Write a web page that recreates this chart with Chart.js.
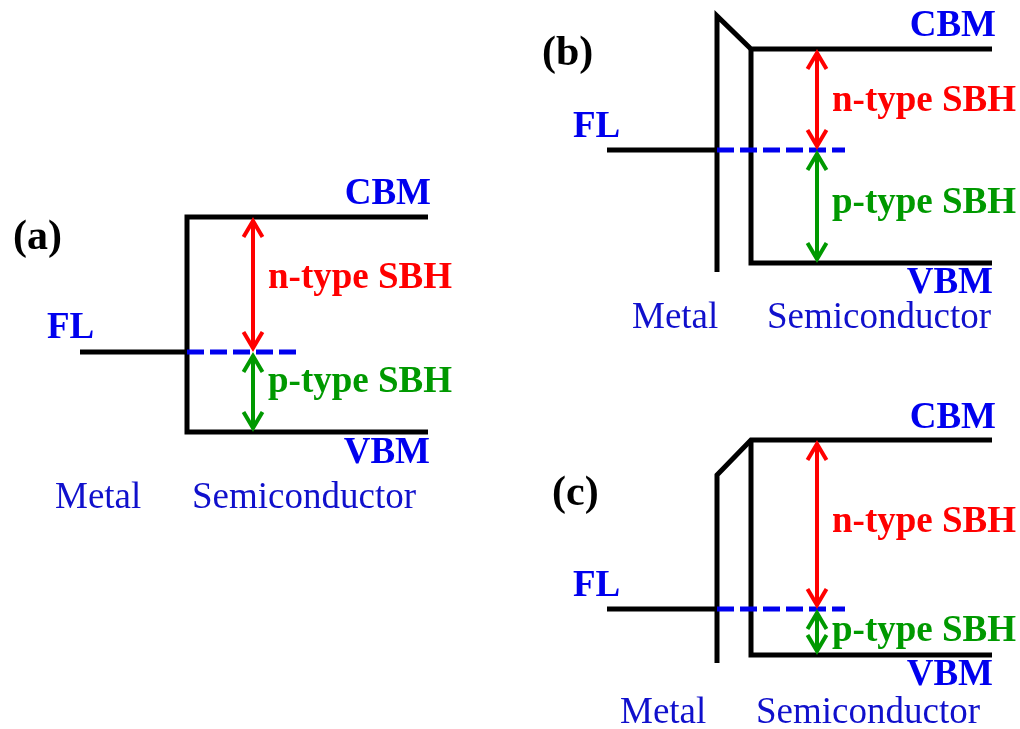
<!DOCTYPE html>
<html>
<head>
<meta charset="utf-8">
<title>Schottky barrier heights at metal–semiconductor contacts</title>
<script src="https://cdn.jsdelivr.net/npm/chart.js@4"></script>
<style>
  html, body { margin: 0; padding: 0; background: #ffffff; }
  #wrap { width: 1020px; height: 729px; }
</style>
</head>
<body>
<div id="wrap"><canvas id="bands" width="1020" height="729"></canvas></div>
<script>
// Band-alignment schematics, energies in eV relative to the Fermi level (FL),
// positions in schematic length units, measured from the semiconductor edge.
const panelTags   = ['(a)', '(b)', '(c)'];
const fermiLevel  = [0, 0, 0];
const cbmLevel    = [1.35, 1.01, 1.69];    // conduction band minimum
const vbmLevel    = [-0.80, -1.13, -0.46]; // valence band maximum
const barrierTop  = [null, 1.34, 1.34];    // top of the tunnel barrier at the metal surface
const metalBottom = [null, -1.22, -0.54];  // lower end of the metal surface line
const metalStart  = [-1.07, -1.44, -1.44];
const metalEdge   = [0, -0.34, -0.34];
const semiEnd     = [2.41, 2.41, 2.41];
const probeX      = [0.66, 0.66, 0.66];    // where the SBH arrows are drawn
const dashEnd     = [1.09, 0.94, 0.94];

// Per-panel axis windows (each panel gets its own x/y scale pair)
const xWindows = [[-1.87, 8.33], [-7.51, 2.69], [-7.51, 2.69]];
const yWindows = [[-3.77, 3.52], [-5.79, 1.50], [-1.20, 6.09]];
const axisIds  = ['a', 'b', 'c'];

const BLACK = '#000000';
const BLUE = '#0000ee';
const BLUE_TEXT = '#1010cc';
const RED = '#ff0000';
const GREEN = '#009900';

const BOLD = 'bold 37px "Liberation Serif", "Times New Roman", serif';
const TAG = 'bold 42px "Liberation Serif", "Times New Roman", serif';
const PLAIN = '37px "Liberation Serif", "Times New Roman", serif';

// Label placement in each panel's own coordinates
const labelLayout = [
  [
    { t: panelTags[0], x: -1.74, y: 1.03, align: 'left', font: TAG, color: BLACK },
    { t: 'FL', x: -1.40, y: 0.14, align: 'left', font: BOLD, color: BLUE },
    { t: 'CBM', x: 2.44, y: 1.48, align: 'right', font: BOLD, color: BLUE },
    { t: 'VBM', x: 2.43, y: -1.11, align: 'right', font: BOLD, color: BLUE },
    { t: 'n-type SBH', x: 0.81, y: 0.64, align: 'left', font: BOLD, color: RED },
    { t: 'p-type SBH', x: 0.81, y: -0.40, align: 'left', font: BOLD, color: GREEN },
    { t: 'Metal', x: -1.32, y: -1.56, align: 'left', font: PLAIN, color: BLUE_TEXT },
    { t: 'Semiconductor', x: 0.05, y: -1.56, align: 'left', font: PLAIN, color: BLUE_TEXT }
  ],
  [
    { t: panelTags[1], x: -2.09, y: 0.85, align: 'left', font: TAG, color: BLACK },
    { t: 'FL', x: -1.78, y: 0.13, align: 'left', font: BOLD, color: BLUE },
    { t: 'CBM', x: 2.45, y: 1.14, align: 'right', font: BOLD, color: BLUE },
    { t: 'VBM', x: 2.42, y: -1.43, align: 'right', font: BOLD, color: BLUE },
    { t: 'n-type SBH', x: 0.81, y: 0.39, align: 'left', font: BOLD, color: RED },
    { t: 'p-type SBH', x: 0.81, y: -0.63, align: 'left', font: BOLD, color: GREEN },
    { t: 'Metal', x: -1.19, y: -1.78, align: 'left', font: PLAIN, color: BLUE_TEXT },
    { t: 'Semiconductor', x: 0.16, y: -1.78, align: 'left', font: PLAIN, color: BLUE_TEXT }
  ],
  [
    { t: panelTags[2], x: -1.99, y: 1.04, align: 'left', font: TAG, color: BLACK },
    { t: 'FL', x: -1.78, y: 0.13, align: 'left', font: BOLD, color: BLUE },
    { t: 'CBM', x: 2.45, y: 1.81, align: 'right', font: BOLD, color: BLUE },
    { t: 'VBM', x: 2.42, y: -0.76, align: 'right', font: BOLD, color: BLUE },
    { t: 'n-type SBH', x: 0.81, y: 0.77, align: 'left', font: BOLD, color: RED },
    { t: 'p-type SBH', x: 0.81, y: -0.32, align: 'left', font: BOLD, color: GREEN },
    { t: 'Metal', x: -1.31, y: -1.14, align: 'left', font: PLAIN, color: BLUE_TEXT },
    { t: 'Semiconductor', x: 0.05, y: -1.14, align: 'left', font: PLAIN, color: BLUE_TEXT }
  ]
];

function line(points, axis, color, extra) {
  return Object.assign({
    data: points,
    xAxisID: 'x' + axis,
    yAxisID: 'y' + axis,
    showLine: true,
    borderColor: color,
    backgroundColor: color,
    borderWidth: 5,
    borderCapStyle: 'butt',
    borderJoinStyle: 'miter',
    pointRadius: 0,
    pointHoverRadius: 0,
    tension: 0,
    fill: false,
    order: 2
  }, extra || {});
}

const datasets = [];
const scales = {};

for (let i = 0; i < 3; i++) {
  const ax = axisIds[i];
  const fl = fermiLevel[i];
  scales['x' + ax] = { type: 'linear', display: false, min: xWindows[i][0], max: xWindows[i][1] };
  scales['y' + ax] = { type: 'linear', display: false, min: yWindows[i][0], max: yWindows[i][1] };

  // Fermi level inside the metal
  datasets.push(line([{ x: metalStart[i], y: fl }, { x: metalEdge[i], y: fl }], ax, BLACK));

  // Fermi level continued into the semiconductor (dashed)
  datasets.push(line([{ x: metalEdge[i], y: fl }, { x: dashEnd[i], y: fl }], ax, BLUE,
    { borderDash: [17, 6], order: 0 }));

  if (barrierTop[i] === null) {
    // Direct contact: CBM, interface, VBM as one outline
    datasets.push(line([
      { x: semiEnd[i], y: cbmLevel[i] },
      { x: 0, y: cbmLevel[i] },
      { x: 0, y: vbmLevel[i] },
      { x: semiEnd[i], y: vbmLevel[i] }
    ], ax, BLACK));
  } else {
    // Metal surface, tunnel barrier and conduction band
    datasets.push(line([
      { x: metalEdge[i], y: metalBottom[i] },
      { x: metalEdge[i], y: barrierTop[i] },
      { x: 0, y: cbmLevel[i] },
      { x: semiEnd[i], y: cbmLevel[i] }
    ], ax, BLACK));
    // Semiconductor edge and valence band
    datasets.push(line([
      { x: 0, y: cbmLevel[i] },
      { x: 0, y: vbmLevel[i] },
      { x: semiEnd[i], y: vbmLevel[i] }
    ], ax, BLACK));
  }

  // n-type and p-type barrier heights
  datasets.push(line([{ x: probeX[i], y: cbmLevel[i] }, { x: probeX[i], y: fl }], ax, RED,
    { showLine: false, arrow: true, order: 1 }));
  datasets.push(line([{ x: probeX[i], y: fl }, { x: probeX[i], y: vbmLevel[i] }], ax, GREEN,
    { showLine: false, arrow: true, order: 1 }));
}

// Double-headed arrows drawn between the two points of each arrow dataset
const doubleArrows = {
  id: 'doubleArrows',
  afterDatasetsDraw(chart) {
    const ctx = chart.ctx;
    const gap = 4, head = 16, half = 9.5;
    chart.data.datasets.forEach((ds, idx) => {
      if (!ds.arrow) return;
      const pts = chart.getDatasetMeta(idx).data;
      if (pts.length < 2) return;
      const x0 = pts[0].x, y0 = pts[0].y, x1 = pts[1].x, y1 = pts[1].y;
      const len = Math.hypot(x1 - x0, y1 - y0);
      const ux = (x1 - x0) / len, uy = (y1 - y0) / len;
      const ax0 = x0 + ux * gap, ay0 = y0 + uy * gap;
      const ax1 = x1 - ux * gap, ay1 = y1 - uy * gap;
      ctx.save();
      ctx.strokeStyle = ds.borderColor;
      ctx.lineWidth = 4;
      ctx.lineCap = 'butt';
      ctx.lineJoin = 'miter';
      ctx.beginPath();
      ctx.moveTo(ax0, ay0 + uy * 2);
      ctx.lineTo(ax1, ay1 - uy * 2);
      ctx.stroke();
      const px = -uy, py = ux;
      // head at start
      ctx.beginPath();
      ctx.moveTo(ax0 + ux * head + px * half, ay0 + uy * head + py * half);
      ctx.lineTo(ax0, ay0);
      ctx.lineTo(ax0 + ux * head - px * half, ay0 + uy * head - py * half);
      ctx.stroke();
      // head at end
      ctx.beginPath();
      ctx.moveTo(ax1 - ux * head + px * half, ay1 - uy * head + py * half);
      ctx.lineTo(ax1, ay1);
      ctx.lineTo(ax1 - ux * head - px * half, ay1 - uy * head - py * half);
      ctx.stroke();
      ctx.restore();
    });
  }
};

// Text labels placed through each panel's scales
const bandLabels = {
  id: 'bandLabels',
  afterDraw(chart) {
    const ctx = chart.ctx;
    ctx.save();
    ctx.textBaseline = 'alphabetic';
    labelLayout.forEach((items, i) => {
      const xs = chart.scales['x' + axisIds[i]];
      const ys = chart.scales['y' + axisIds[i]];
      items.forEach(it => {
        ctx.font = it.font;
        ctx.fillStyle = it.color;
        ctx.textAlign = it.align;
        ctx.fillText(it.t, xs.getPixelForValue(it.x), ys.getPixelForValue(it.y));
      });
    });
    ctx.restore();
  }
};

new Chart(document.getElementById('bands'), {
  type: 'scatter',
  data: { datasets },
  options: {
    responsive: false,
    animation: false,
    layout: { padding: 0 },
    scales,
    plugins: {
      legend: { display: false },
      tooltip: { enabled: false },
      title: { display: false }
    },
    events: []
  },
  plugins: [doubleArrows, bandLabels]
});
</script>
</body>
</html>
